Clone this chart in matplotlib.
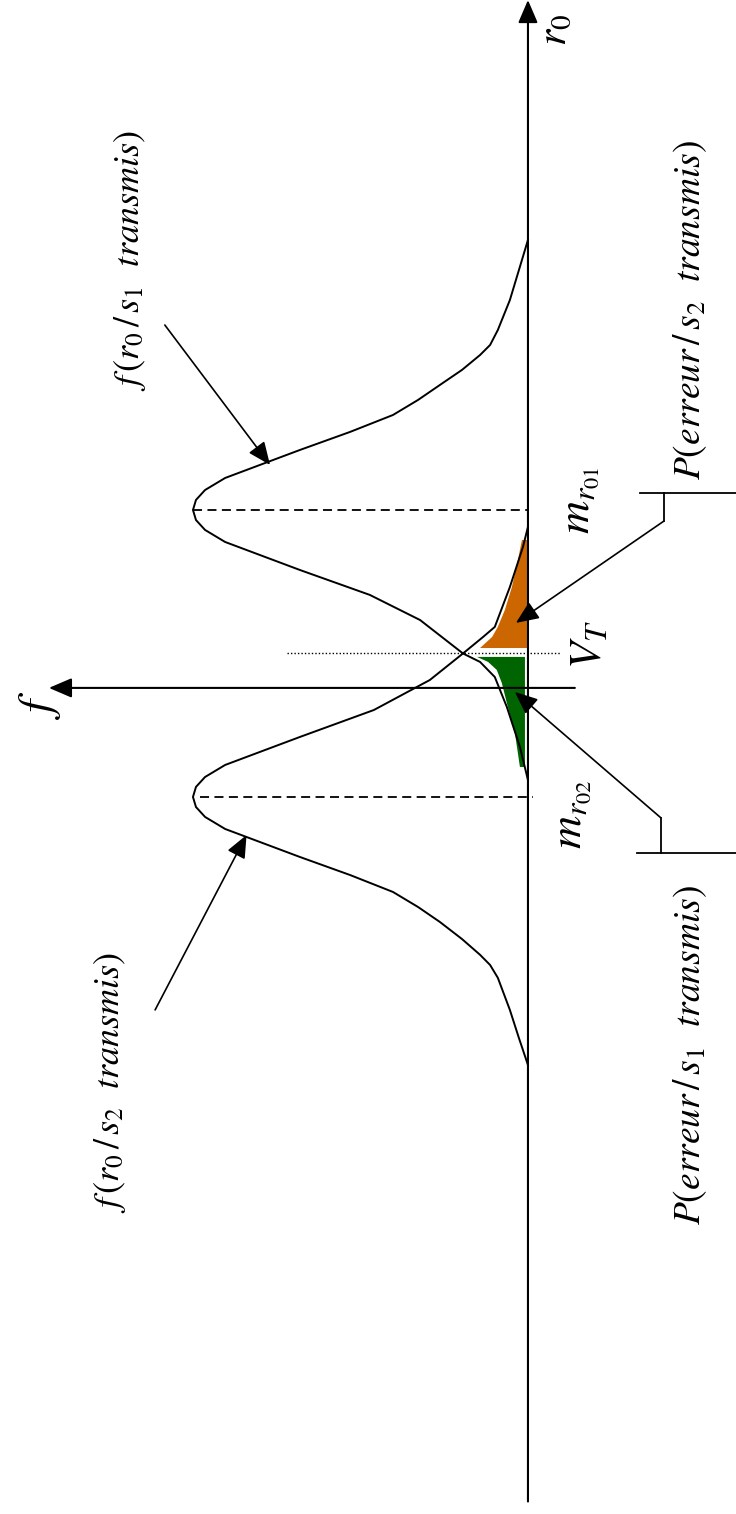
import matplotlib
matplotlib.use('Agg')
import matplotlib.pyplot as plt

plt.rcParams['mathtext.fontset'] = 'stix'
plt.rcParams['font.family'] = ['Liberation Serif', 'DejaVu Serif']

# curve of f(r0/s1 transmis): r0 position, height f (peak = 1 at m_r01 = 1)
c1_r0 = [2.882, 2.672, 2.463, 2.254, 2.150, 2.080, 1.976, 1.871, 1.767, 1.662, 1.544, 1.418,
         1.314, 1.223, 1.139, 1.070, 1.0, 0.930, 0.861, 0.777, 0.686, 0.582, 0.408, 0.233,
         0.0, -0.059, -0.164, -0.373, -0.652, -0.882]
c1_f = [0.0, 0.027, 0.054, 0.090, 0.113, 0.143, 0.197, 0.263, 0.328, 0.403, 0.531, 0.681,
        0.800, 0.904, 0.964, 0.991, 1.0, 0.991, 0.964, 0.904, 0.800, 0.681, 0.472, 0.322,
        0.194, 0.143, 0.099, 0.063, 0.024, 0.0]

# curve of f(r0/s2 transmis) (peak = 1 at m_r02 = -1)
c2_r0 = [0.882, 0.742, 0.463, 0.185, 0.115, 0.0, -0.185, -0.394, -0.582, -0.686, -0.777,
         -0.861, -0.930, -1.0, -1.070, -1.139, -1.223, -1.314, -1.418, -1.544, -1.662, -1.767,
         -1.871, -1.990, -2.100, -2.171, -2.260, -2.484, -2.680, -2.868]
c2_f = [0.0, 0.015, 0.054, 0.099, 0.134, 0.194, 0.293, 0.460, 0.681, 0.800, 0.904,
        0.964, 0.991, 1.0, 0.991, 0.964, 0.904, 0.800, 0.681, 0.531, 0.403, 0.328,
        0.263, 0.197, 0.143, 0.113, 0.090, 0.054, 0.027, 0.0]

# shaded error areas
err2_r0 = [0.038, 0.115, 0.185, 0.303, 0.463, 0.652, 0.791, 0.791, 0.038]
err2_f = [0.143, 0.107, 0.090, 0.069, 0.048, 0.030, 0.018, 0.003, 0.003]
err1_r0 = [-0.024, -0.059, -0.115, -0.206, -0.373, -0.554, -0.791, -0.791, -0.024]
err1_f = [0.152, 0.119, 0.093, 0.078, 0.060, 0.039, 0.024, 0.009, 0.009]

m_r01, m_r02, V_T = 1.0, -1.0, 0.0

fig = plt.figure(figsize=(7.36, 15.14), dpi=100)
ax = fig.add_axes([0, 0, 1, 1])
ax.set_xlim(1.576, -0.621)
ax.set_ylim(-5.997, 4.554)
ax.axis('off')

lw = 1.4
ax.plot(c1_f, c1_r0, color='black', lw=lw, solid_joinstyle='round')
ax.plot(c2_f, c2_r0, color='black', lw=lw, solid_joinstyle='round')
ax.fill(err2_f, err2_r0, color='#cc6600', lw=0)
ax.fill(err1_f, err1_r0, color='#006400', lw=0)

# mean lines and threshold
ax.plot([1.0, 0.0], [m_r01, m_r01], color='black', lw=1.3, ls=(0, (5, 3)))
ax.plot([0.98, -0.015], [m_r02, m_r02], color='black', lw=1.3, ls=(0, (5, 3)))
ax.plot([0.719, -0.096], [V_T, V_T], color='black', lw=1.0, ls=(0, (1, 1.5)))

head = '-|>,head_length=0.7,head_width=0.3'
# axes
ax.annotate('', xy=(0.0, 4.554), xytext=(0.0, -5.91),
            arrowprops=dict(arrowstyle=head, color='black', lw=1.5, mutation_scale=20,
                            shrinkA=0, shrinkB=0))
ax.annotate('', xy=(1.43, -0.24), xytext=(-0.14, -0.24),
            arrowprops=dict(arrowstyle=head, color='black', lw=1.5, mutation_scale=20,
                            shrinkA=0, shrinkB=0))

# label arrows
ax.annotate('', xy=(0.770, 1.314), xytext=(1.084, 2.289),
            arrowprops=dict(arrowstyle=head, color='black', lw=1.2, mutation_scale=20,
                            shrinkA=0, shrinkB=0))
ax.annotate('', xy=(0.84, -1.265), xytext=(1.113, -2.484),
            arrowprops=dict(arrowstyle=head, color='black', lw=1.2, mutation_scale=20,
                            shrinkA=0, shrinkB=0))

# brackets to error areas
ax.plot([-0.334, -0.621], [1.118, 1.118], color='black', lw=1.3)
ax.plot([-0.406, -0.406], [1.118, 0.923], color='black', lw=1.3)
ax.annotate('', xy=(0.036, 0.213), xytext=(-0.406, 0.923),
            arrowprops=dict(arrowstyle=head, color='black', lw=1.2, mutation_scale=20,
                            shrinkA=0, shrinkB=0))
ax.plot([-0.325, -0.621], [-1.390, -1.390], color='black', lw=1.3)
ax.plot([-0.397, -0.397], [-1.390, -1.146], color='black', lw=1.3)
ax.annotate('', xy=(0.039, -0.268), xytext=(-0.397, -1.146),
            arrowprops=dict(arrowstyle=head, color='black', lw=1.2, mutation_scale=20,
                            shrinkA=0, shrinkB=0))

# texts
kw = dict(rotation=90, ha='center', va='center')
ax.text(1.188, 2.742, r'$f\,(r_0\,/\,s_1\ \ transmis)$', fontsize=26, **kw)
ax.text(1.248, -2.987, r'$f\,(r_0\,/\,s_2\ \ transmis)$', fontsize=26, **kw)
ax.text(-0.484, 2.394, r'$P(erreur\,/\,s_2\ \ transmis)$', fontsize=27, **kw)
ax.text(-0.484, -2.797, r'$P(erreur\,/\,s_1\ \ transmis)$', fontsize=27, **kw)
ax.text(-0.155, 1.07, r'$m_{r_{01}}$', fontsize=33, **kw)
ax.text(-0.185, 0.06, r'$V_T$', fontsize=32, **kw)
ax.text(-0.131, -1.12, r'$m_{r_{02}}$', fontsize=33, **kw)
ax.text(-0.08, 4.345, r'$r_0$', fontsize=30, **kw)
ax.text(1.457, -0.359, r'$f$', fontsize=34, **kw)

fig.savefig('out.png', dpi=100)
